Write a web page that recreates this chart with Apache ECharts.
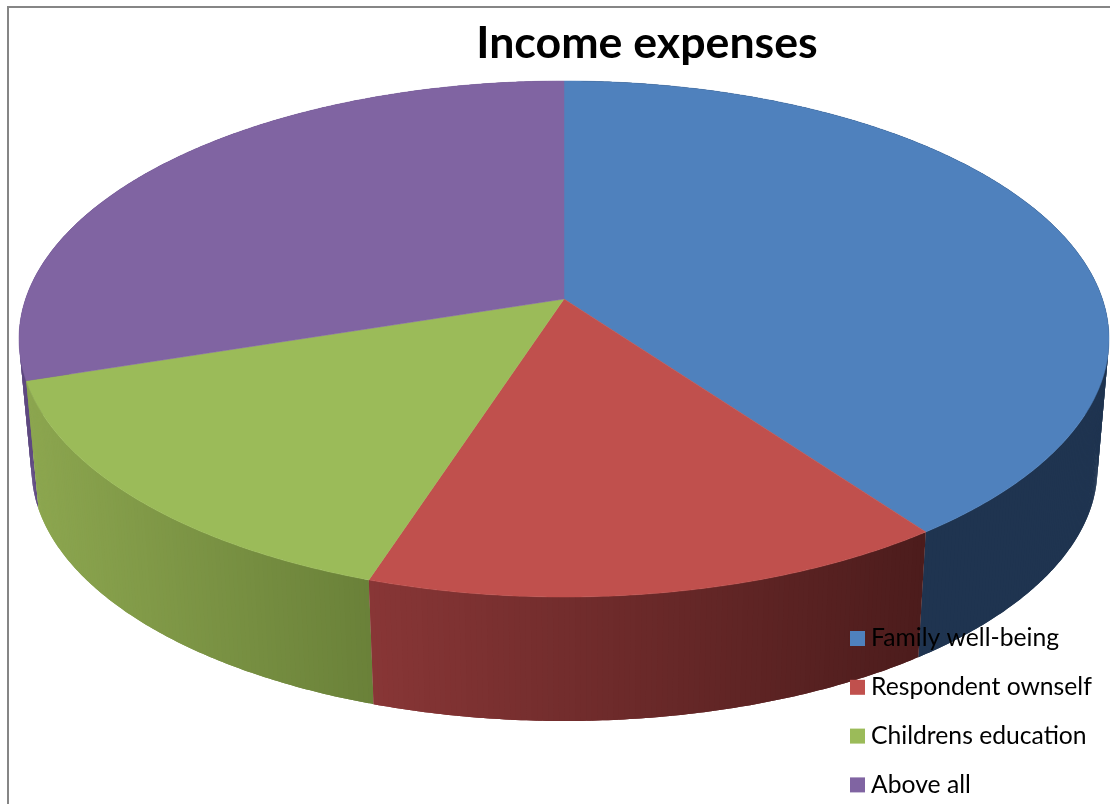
<!DOCTYPE html>
<html>
<head>
<meta charset="utf-8">
<title>Income expenses</title>
<style>
  html, body { margin: 0; padding: 0; background: #fff; }
  #chart { width: 1110px; height: 804px; }
</style>
<script src="https://cdn.jsdelivr.net/npm/echarts@6/dist/echarts.min.js"></script>
</head>
<body>
<div id="chart"></div>
<script>
// Chart content
const chartTitle = 'Income expenses';
const categories = ['Family well-being', 'Respondent ownself', 'Childrens education', 'Above all'];
const shares = [40, 15, 15, 30];

// Slice colours: upper face, then side wall from its left end to its right end
const topColors = ['#4f81bd', '#c0504d', '#9bbb59', '#8064a2'];
const wallColors = [
  ['#1f3450', '#1f3450'],
  ['#883636', '#4c1c1c'],
  ['#8ca64f', '#6a8139'],
  ['#5f4a80', '#5f4a80']
];

// Tilted disc geometry: upper and lower ellipses, and the perspective shift of the centre
const upperDisc = { cx: 564, cy: 339, rx: 545, ry: 258 };
const lowerDisc = { cx: 564.5, cy: 468, rx: 533, ry: 253 };
const perspective = 0.155;

// Sends an angle on the flat disc (0 = back, clockwise, in degrees) to the tilted ellipse
function project(disc, deg) {
  const t = deg * Math.PI / 180;
  const u = Math.sin(t);
  const v = Math.cos(t);
  const k = 1 + perspective * v;
  const px = u * Math.sqrt(1 - perspective * perspective) / k;
  const py = (v + perspective) / k;
  return [disc.cx + disc.rx * px, disc.cy - disc.ry * py];
}

function centre(disc) {
  return [disc.cx, disc.cy - disc.ry * perspective];
}

function renderSlice(index) {
  return function (params, api) {
    const from = api.value(0) / api.value(2) * 360;
    const to = api.value(1) / api.value(2) * 360;
    const steps = Math.max(8, Math.round((to - from) / 0.5));
    const upper = [];
    const lower = [];
    for (let i = 0; i <= steps; i++) {
      const deg = from + (to - from) * i / steps;
      upper.push(project(upperDisc, deg));
      lower.push(project(lowerDisc, deg));
    }
    const xs = upper.map(function (p) { return p[0]; });
    const xMin = Math.min.apply(null, xs);
    const xMax = Math.max.apply(null, xs);
    const mid = (from + to) / 2 * Math.PI / 180;
    const wallOrder = 3 - Math.cos(mid);
    const children = [];
    // Side wall, built from overlapping strips so the shading can follow x without seams
    for (let i = 0; i < steps; i++) {
      const next = Math.min(i + 2, steps);
      const t = ((upper[i][0] + upper[i + 1][0]) / 2 - xMin) / Math.max(1, xMax - xMin);
      children.push({
        type: 'polygon',
        z2: wallOrder,
        silent: true,
        shape: { points: [upper[i], upper[i + 1], upper[next], lower[next], lower[i + 1], lower[i]] },
        style: { fill: echarts.color.lerp(t, wallColors[index]) }
      });
    }
    // Upper face of the slice
    children.push({
      type: 'polygon',
      z2: 10,
      silent: true,
      shape: { points: [centre(upperDisc)].concat(upper) },
      style: { fill: topColors[index], stroke: topColors[index], lineWidth: 0.5 }
    });
    return { type: 'group', children: children };
  };
}

const total = shares.reduce(function (a, b) { return a + b; }, 0);
let running = 0;
const series = categories.map(function (name, i) {
  const start = running;
  running += shares[i];
  return {
    type: 'custom',
    name: name,
    coordinateSystem: 'none',
    silent: true,
    animation: false,
    itemStyle: { color: topColors[i] },
    data: [[start, running, total]],
    renderItem: renderSlice(i)
  };
});

const chart = echarts.init(document.getElementById('chart'), null, { renderer: 'canvas' });
chart.setOption({
  animation: false,
  backgroundColor: '#ffffff',
  title: {
    text: chartTitle,
    left: 642,
    top: 16,
    textAlign: 'center',
    textStyle: { fontFamily: 'Lato', fontWeight: 'bold', fontSize: 44.7, color: '#000000' }
  },
  legend: {
    orient: 'vertical',
    left: 850,
    top: 626,
    icon: 'rect',
    itemWidth: 15,
    itemHeight: 15,
    itemGap: 23.8,
    selectedMode: false,
    padding: 0,
    data: categories,
    textStyle: { fontFamily: 'Lato', fontSize: 24.7, color: '#000000', padding: [0, 0, 0, 1], lineHeight: 24 }
  },
  graphic: [{
    type: 'rect',
    z: -1,
    silent: true,
    shape: { x: 8, y: 7, width: 1300, height: 1000 },
    style: { fill: 'none', stroke: '#868686', lineWidth: 2 }
  }],
  series: series
});
</script>
</body>
</html>
